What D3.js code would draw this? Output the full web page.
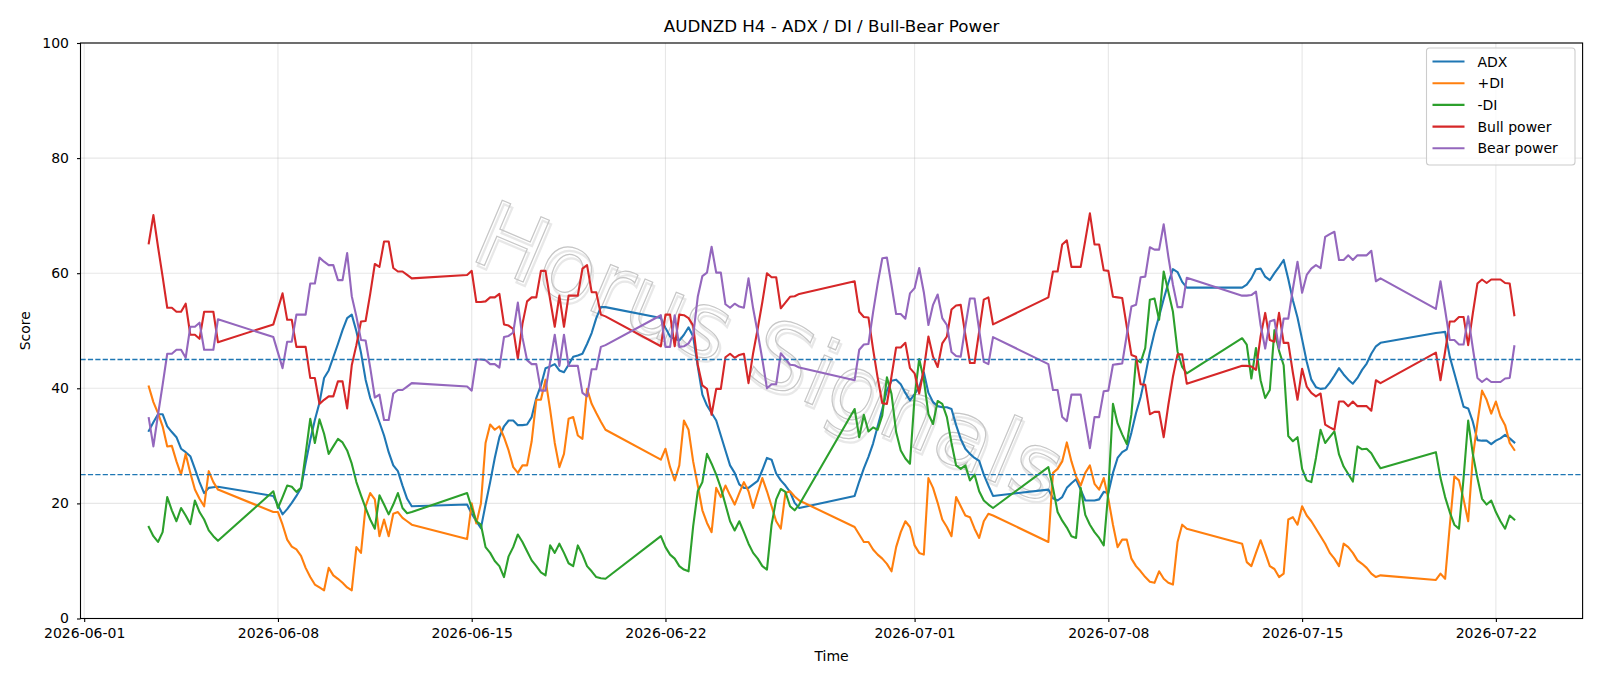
<!DOCTYPE html>
<html>
<head>
<meta charset="utf-8">
<script src="https://cdn.jsdelivr.net/npm/d3@7"></script>
<style>
  body { margin: 0; background: #fff; }
  text { font-family: "DejaVu Sans", sans-serif; }
</style>
</head>
<body>
<script>
// H4 bars, one run per trading week: [first bar, number of bars]
const sessions = [
  ['2026-06-03 08:00', 16],
  ['2026-06-07 20:00', 31],
  ['2026-06-14 20:00', 31],
  ['2026-06-21 20:00', 31],
  ['2026-06-28 20:00', 31],
  ['2026-07-05 20:00', 31],
  ['2026-07-12 20:00', 31],
  ['2026-07-19 20:00', 18]
];

const adx = [
  32.6, 34.1, 35.5, 35.5, 33.4, 32.4, 31.5, 29.5, 28.9, 28.2, 26.0, 23.7, 21.8, 22.7, 22.8, 22.9,
  21.3, 19.7, 18.1, 19.0, 20.1, 21.3, 22.7, 27.0, 31.0, 34.5, 37.5, 41.8, 43.1, 45.4, 47.7, 50.1, 52.2, 52.8, 49.9, 46.2, 41.5, 38.3, 36.3, 34.1, 31.8, 28.9, 26.6, 25.6, 23.1, 20.8, 19.5,
  19.8, 18.2, 16.9, 15.7, 19.8, 23.7, 27.9, 31.5, 33.4, 34.4, 34.4, 33.6, 33.6, 33.7, 35.0, 38.3, 40.5, 43.5, 43.8, 44.2, 43.1, 42.8, 44.1, 45.5, 45.7, 46.0, 47.7, 49.6, 52.2, 54.1, 54.1,
  52.2, 50.5, 49.0, 48.6, 48.3, 49.3, 50.6, 49.0, 43.8, 38.9, 37.0, 35.7, 34.4, 31.8, 29.2, 26.6, 25.3, 23.3, 22.7, 22.7, 23.3, 23.9, 25.8, 27.9, 27.6, 25.2, 24.0, 23.1, 22.0, 20.1, 19.2,
  21.3, 23.8, 26.1, 28.1, 30.4, 33.4, 36.4, 39.6, 41.3, 41.5, 40.7, 39.2, 37.9, 39.0, 40.2, 42.8, 39.2, 37.6, 36.9, 36.7, 36.7, 36.4, 33.6, 31.2, 29.5, 28.6, 27.9, 27.4, 25.0, 23.1, 21.3,
  22.4, 20.9, 20.5, 21.1, 22.7, 23.5, 24.2, 22.4, 20.5, 20.5, 20.5, 20.7, 22.0, 21.8, 25.3, 27.9, 28.9, 29.4, 32.3, 35.7, 38.5, 42.2, 46.3, 49.7, 52.5, 55.5, 58.3, 60.7, 60.2, 58.5, 57.5,
  57.5, 58.0, 59.1, 60.7, 60.8, 59.4, 58.8, 60.0, 61.1, 62.3, 59.0, 55.3, 52.3, 48.5, 44.6, 41.5, 40.2, 39.9, 40.0, 41.0, 42.2, 43.5, 42.4, 41.5, 40.8, 41.8, 43.2, 44.3, 46.0, 47.3, 47.9,
  49.6, 49.7, 49.8, 45.5, 42.6, 39.7, 36.8, 36.5, 34.2, 31.0, 30.9, 30.9, 30.3, 30.9, 31.3, 31.9, 31.3, 30.6
];

const plusDI = [
  40.3, 37.6, 35.7, 33.4, 29.9, 30.0, 27.3, 25.0, 28.6, 25.3, 22.4, 20.8, 19.5, 25.6, 23.7, 22.4,
  18.5, 18.5, 16.3, 13.7, 12.5, 12.0, 10.9, 8.8, 7.2, 5.9, 5.4, 4.9, 8.8, 7.5, 6.9, 6.2, 5.4, 4.9, 12.4, 11.4, 19.5, 21.8, 20.7, 14.3, 17.2, 14.3, 18.2, 18.5, 17.5, 16.9, 16.3,
  13.8, 20.0, 16.5, 20.0, 30.5, 33.7, 32.8, 33.4, 31.5, 29.2, 26.3, 25.3, 26.6, 26.6, 30.8, 38.0, 38.0, 41.5, 36.3, 30.5, 26.3, 28.6, 34.7, 35.0, 31.8, 31.2, 39.9, 37.3, 35.7, 34.2, 32.8,
  27.6, 29.5, 26.3, 24.0, 26.6, 34.4, 32.8, 27.3, 23.1, 18.8, 16.6, 15.0, 22.7, 21.1, 23.1, 21.4, 19.8, 21.8, 23.7, 22.1, 19.2, 21.8, 24.4, 22.1, 19.5, 16.9, 15.6, 21.8, 22.1, 21.2, 20.5,
  15.9, 14.6, 13.3, 13.3, 12.0, 11.1, 10.4, 9.5, 8.2, 12.4, 15.0, 16.9, 15.9, 12.7, 11.4, 11.1, 24.4, 22.7, 20.1, 17.2, 15.9, 14.3, 21.1, 19.5, 17.9, 17.6, 15.6, 14.0, 16.9, 18.2, 17.9,
  13.3, 25.3, 26.0, 27.3, 30.6, 27.3, 24.7, 23.1, 25.3, 26.6, 23.4, 22.4, 24.4, 20.8, 16.3, 12.4, 13.7, 13.7, 10.4, 9.1, 8.2, 7.2, 6.4, 6.2, 8.2, 6.9, 6.2, 5.9, 13.3, 16.3, 15.6,
  13.0, 9.8, 9.1, 11.4, 13.6, 11.4, 9.1, 8.6, 7.2, 7.8, 17.2, 17.6, 16.3, 19.5, 17.9, 16.9, 15.6, 14.3, 13.0, 11.4, 10.4, 9.1, 13.0, 12.4, 11.4, 10.1, 9.5, 8.8, 7.8, 7.2, 7.5,
  6.7, 7.8, 6.9, 16.0, 24.7, 24.0, 20.7, 16.9, 28.0, 34.0, 39.6, 38.0, 35.6, 37.7, 35.1, 33.6, 30.5, 29.3
];

const minusDI = [
  15.9, 14.3, 13.3, 15.0, 21.1, 18.8, 16.9, 19.2, 17.9, 16.4, 20.5, 18.5, 17.2, 15.3, 14.3, 13.5,
  22.1, 19.2, 21.1, 23.1, 22.9, 22.0, 22.7, 28.6, 34.7, 30.5, 34.6, 32.1, 28.6, 29.9, 31.2, 30.6, 29.2, 26.9, 23.7, 21.4, 19.2, 17.2, 15.6, 21.4, 19.8, 18.1, 19.8, 21.8, 19.2, 18.3, 18.5,
  21.8, 19.2, 16.9, 16.3, 12.4, 11.4, 10.0, 9.1, 7.2, 10.8, 12.4, 14.6, 13.3, 11.7, 10.1, 9.1, 8.0, 7.5, 12.7, 11.4, 13.0, 11.4, 9.6, 9.1, 12.7, 11.1, 9.1, 8.2, 7.2, 7.0, 6.9,
  14.3, 12.4, 11.1, 10.4, 9.1, 8.5, 8.2, 16.0, 22.1, 23.7, 28.6, 26.9, 25.0, 22.7, 19.8, 16.9, 15.3, 16.9, 15.0, 13.0, 11.4, 10.4, 9.1, 8.5, 16.3, 20.7, 22.5, 22.0, 19.5, 18.8, 19.8,
  36.4, 31.5, 35.4, 32.5, 33.2, 32.8, 35.3, 41.9, 39.0, 32.4, 29.2, 27.8, 26.9, 38.5, 45.1, 41.5, 35.5, 33.8, 37.8, 37.3, 35.0, 30.5, 26.6, 26.0, 26.6, 24.0, 25.0, 22.1, 20.5, 19.8, 19.2,
  26.3, 22.7, 18.5, 17.0, 15.8, 14.3, 14.0, 22.7, 18.0, 16.3, 15.0, 14.0, 12.7, 22.1, 37.3, 33.9, 32.0, 30.3, 35.5, 45.0, 44.5, 47.0, 55.4, 55.6, 51.9, 60.3, 56.8, 53.3, 46.4, 43.7, 42.6,
  48.7, 47.6, 41.7, 47.0, 41.4, 38.3, 39.7, 50.1, 46.5, 44.0, 31.7, 30.8, 31.5, 26.0, 24.0, 23.7, 27.9, 32.8, 30.5, 31.5, 32.5, 28.5, 26.4, 25.1, 23.8, 29.9, 29.4, 29.5, 28.7, 27.3, 26.1,
  28.9, 24.4, 21.1, 18.5, 16.3, 15.6, 24.4, 34.4, 28.6, 24.4, 20.8, 19.8, 20.5, 18.5, 16.9, 15.6, 17.9, 17.2
];

const bullPower = [
  65.2, 70.1, 64.6, 59.4, 54.0, 54.0, 53.3, 53.3, 54.7, 49.3, 49.3, 48.6, 53.3, 53.3, 53.3, 48.0,
  51.1, 53.8, 56.5, 51.9, 51.9, 47.2, 47.2, 47.2, 41.8, 41.8, 37.3, 38.0, 38.6, 38.6, 41.2, 41.2, 36.5, 44.0, 47.5, 51.6, 51.7, 56.4, 61.6, 61.1, 65.5, 65.5, 60.9, 60.3, 60.3, 59.7, 59.1,
  59.7, 60.4, 55.0, 55.0, 55.1, 55.8, 55.8, 56.4, 51.1, 50.9, 50.3, 45.1, 51.2, 55.1, 55.8, 55.8, 60.4, 60.4, 55.4, 50.7, 56.1, 50.7, 56.1, 56.1, 56.1, 60.8, 61.4, 56.7, 56.7, 52.8, 52.5,
  47.3, 52.8, 52.8, 47.3, 52.8, 52.7, 52.2, 50.9, 44.1, 40.5, 39.9, 35.4, 39.9, 39.9, 45.4, 46.0, 45.3, 45.8, 46.0, 40.9, 46.1, 50.4, 55.0, 60.0, 59.3, 59.3, 53.9, 54.9, 55.9, 56.0, 56.4,
  58.6, 53.3, 52.4, 52.3, 46.8, 41.8, 37.4, 37.3, 42.1, 47.1, 47.1, 47.9, 43.5, 42.6, 39.1, 43.3, 49.0, 45.5, 43.7, 47.8, 49.0, 53.7, 54.4, 54.5, 49.3, 44.4, 44.4, 49.9, 55.4, 55.8, 51.1,
  55.8, 60.3, 60.3, 65.0, 65.7, 61.1, 61.1, 61.1, 65.7, 70.4, 65.0, 65.0, 60.5, 60.4, 55.9, 55.8, 55.7, 50.7, 45.8, 45.5, 40.7, 40.6, 35.5, 35.9, 35.9, 31.5, 37.1, 42.0, 45.9, 45.9, 40.8,
  43.9, 43.9, 43.8, 43.2, 49.0, 53.1, 48.4, 48.1, 53.1, 47.9, 47.9, 42.7, 38.0, 43.4, 40.3, 39.2, 38.6, 39.1, 33.7, 33.2, 32.8, 37.7, 37.7, 36.9, 37.7, 36.9, 36.9, 36.9, 36.1, 41.4, 40.9,
  46.2, 41.4, 46.4, 51.6, 51.6, 52.4, 52.4, 47.5, 53.0, 58.2, 58.9, 58.3, 58.9, 58.9, 58.9, 58.3, 58.2, 52.7
];

const bearPower = [
  34.8, 29.9, 35.4, 40.6, 46.0, 46.0, 46.7, 46.7, 45.3, 50.7, 50.7, 51.4, 46.7, 46.7, 46.7, 52.0,
  48.9, 46.2, 43.5, 48.1, 48.1, 52.8, 52.8, 52.8, 58.2, 58.2, 62.7, 62.0, 61.4, 61.4, 58.8, 58.8, 63.5, 56.0, 52.5, 48.4, 48.3, 43.6, 38.4, 38.9, 34.5, 34.5, 39.1, 39.7, 39.7, 40.3, 40.9,
  40.3, 39.6, 45.0, 45.0, 44.9, 44.2, 44.2, 43.6, 48.9, 49.1, 49.7, 54.9, 48.8, 44.9, 44.2, 44.2, 39.6, 39.6, 44.6, 49.3, 43.9, 49.3, 43.9, 43.9, 43.9, 39.2, 38.6, 43.3, 43.3, 47.2, 47.5,
  52.7, 47.2, 47.2, 52.7, 47.2, 47.3, 47.8, 49.1, 55.9, 59.5, 60.1, 64.6, 60.1, 60.1, 54.6, 54.0, 54.7, 54.2, 54.0, 59.1, 53.9, 49.6, 45.0, 40.0, 40.7, 40.7, 46.1, 45.1, 44.1, 44.0, 43.6,
  41.4, 46.7, 47.6, 47.7, 53.2, 58.2, 62.6, 62.7, 57.9, 52.9, 52.9, 52.1, 56.5, 57.4, 60.9, 56.7, 51.0, 54.5, 56.3, 52.2, 51.0, 46.3, 45.6, 45.5, 50.7, 55.6, 55.6, 50.1, 44.6, 44.2, 48.9,
  44.2, 39.7, 39.7, 35.0, 34.3, 38.9, 38.9, 38.9, 34.3, 29.6, 35.0, 35.0, 39.5, 39.6, 44.1, 44.2, 44.3, 49.3, 54.2, 54.5, 59.3, 59.4, 64.5, 64.1, 64.1, 68.5, 62.9, 58.0, 54.1, 54.1, 59.2,
  56.1, 56.1, 56.2, 56.8, 51.0, 46.9, 51.6, 51.9, 46.9, 52.1, 52.1, 57.3, 62.0, 56.6, 59.7, 60.8, 61.4, 60.9, 66.3, 66.8, 67.2, 62.3, 62.3, 63.1, 62.3, 63.1, 63.1, 63.1, 63.9, 58.6, 59.1,
  53.8, 58.6, 53.6, 48.4, 48.4, 47.6, 47.6, 52.5, 47.0, 41.8, 41.1, 41.7, 41.1, 41.1, 41.1, 41.7, 41.8, 47.3
];

const seriesNames = ['ADX', '+DI', '-DI', 'Bull power', 'Bear power'];
const refLevels = [25, 45];
const xTickLabels = ['2026-06-01', '2026-06-08', '2026-06-15', '2026-06-22', '2026-07-01', '2026-07-08', '2026-07-15', '2026-07-22'];
const yTickValues = [0, 20, 40, 60, 80, 100];

const colors = ['#1f77b4', '#ff7f0e', '#2ca02c', '#d62728', '#9467bd'];
const W = 1600, H = 686;
const m = { left: 80.5, right: 17.4, top: 43, bottom: 67.5 };

const parseTime = d3.utcParse('%Y-%m-%d %H:%M');
const parseDay = d3.utcParse('%Y-%m-%d');
const times = sessions.flatMap(([start, n]) =>
  d3.range(n).map(i => d3.utcHour.offset(parseTime(start), 4 * i)));

const series = [adx, plusDI, minusDI, bullPower, bearPower];

// matplotlib-like 5% padding on the time axis
const [t0, t1] = d3.extent(times);
const pad = (t1 - t0) * 0.05;
const x = d3.scaleUtc()
  .domain([new Date(+t0 - pad), new Date(+t1 + pad)])
  .range([m.left, W - m.right]);
const y = d3.scaleLinear().domain([0, 100]).range([H - m.bottom, m.top]);

const svg = d3.select('body').append('svg')
  .attr('width', W)
  .attr('height', H);

// grid
const grid = svg.append('g').attr('stroke', '#b0b0b0').attr('stroke-opacity', 0.3).attr('stroke-width', 1.1);
grid.selectAll('.gx').data(xTickLabels).enter().append('line')
  .attr('x1', d => x(parseDay(d))).attr('x2', d => x(parseDay(d)))
  .attr('y1', m.top).attr('y2', H - m.bottom);
grid.selectAll('.gy').data(yTickValues).enter().append('line')
  .attr('x1', m.left).attr('x2', W - m.right)
  .attr('y1', d => y(d)).attr('y2', d => y(d));

// watermark
const wm = svg.append('g')
  .attr('transform', 'translate(770,352) rotate(23)')
  .style('font-size', '92px')
  .attr('text-anchor', 'middle');
wm.append('text').text('Horus Signals')
  .attr('x', 3).attr('y', 35)
  .attr('fill', 'none').attr('stroke', '#e8e8e8').attr('stroke-width', 2.2);
wm.append('text').text('Horus Signals')
  .attr('y', 32)
  .attr('fill', 'none').attr('stroke', '#c6c6c6').attr('stroke-width', 1.2);

// lines
const line = d3.line()
  .x((d, i) => x(times[i]))
  .y(d => y(d));

svg.append('g').selectAll('path').data(series).enter().append('path')
  .attr('d', line)
  .attr('fill', 'none')
  .attr('stroke', (d, i) => colors[i])
  .attr('stroke-width', 2.1)
  .attr('stroke-linejoin', 'round')
  .attr('stroke-linecap', 'square');

// reference levels
svg.append('g').selectAll('line').data(refLevels).enter().append('line')
  .attr('x1', m.left).attr('x2', W - m.right)
  .attr('y1', d => y(d)).attr('y2', d => y(d))
  .attr('stroke', colors[0])
  .attr('stroke-width', 1.4)
  .attr('stroke-dasharray', '5.2,2.2');

// axes
const xAxis = svg.append('g')
  .attr('transform', `translate(0,${H - m.bottom})`)
  .call(d3.axisBottom(x)
    .tickValues(xTickLabels.map(parseDay))
    .tickFormat(d3.utcFormat('%Y-%m-%d'))
    .tickSize(3.5)
    .tickPadding(6));
const yAxis = svg.append('g')
  .attr('transform', `translate(${m.left},0)`)
  .call(d3.axisLeft(y).tickValues(yTickValues).tickSize(3.5).tickPadding(8));

[xAxis, yAxis].forEach(a => {
  a.select('.domain').remove();
  a.selectAll('.tick line').attr('stroke', '#000').attr('stroke-width', 1.1);
  a.selectAll('.tick text').attr('fill', '#000')
    .style('font-family', '"DejaVu Sans", sans-serif')
    .style('font-size', '14px');
});

svg.append('rect')
  .attr('x', m.left).attr('y', m.top)
  .attr('width', W - m.left - m.right).attr('height', H - m.top - m.bottom)
  .attr('fill', 'none').attr('stroke', '#000').attr('stroke-width', 1.1);

// titles
svg.append('text')
  .attr('x', (m.left + W - m.right) / 2).attr('y', 32)
  .attr('text-anchor', 'middle')
  .style('font-size', '16.7px')
  .text('AUDNZD H4 - ADX / DI / Bull-Bear Power');
svg.append('text')
  .attr('x', (m.left + W - m.right) / 2).attr('y', 661)
  .attr('text-anchor', 'middle')
  .style('font-size', '14px')
  .text('Time');
svg.append('text')
  .attr('transform', `translate(30,${(m.top + H - m.bottom) / 2}) rotate(-90)`)
  .attr('text-anchor', 'middle')
  .style('font-size', '14px')
  .text('Score');

// legend
const lg = svg.append('g').attr('transform', 'translate(1426.5,48)');
lg.append('rect')
  .attr('width', 148.5).attr('height', 117).attr('rx', 3)
  .attr('fill', '#fff').attr('fill-opacity', 0.8)
  .attr('stroke', '#cccccc').attr('stroke-width', 1.1);
const rows = lg.selectAll('.row').data(seriesNames).enter().append('g')
  .attr('transform', (d, i) => `translate(0,${13.5 + i * 21.7})`);
rows.append('line')
  .attr('x1', 6).attr('x2', 38)
  .attr('stroke', (d, i) => colors[i]).attr('stroke-width', 2.1);
rows.append('text')
  .attr('x', 51).attr('y', 5)
  .style('font-size', '14px')
  .text(d => d);
</script>
</body>
</html>
